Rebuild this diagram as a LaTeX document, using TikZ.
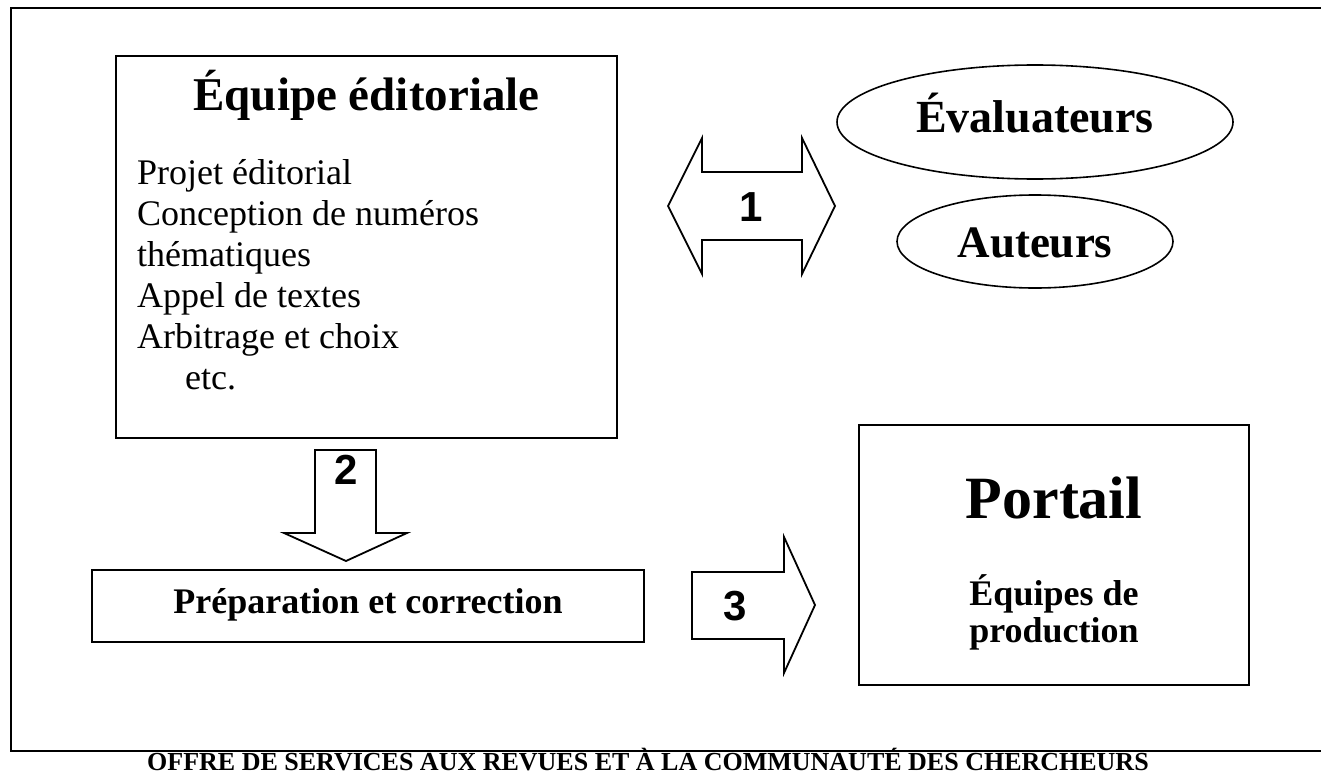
\documentclass[tikz,border=0pt]{standalone}
\usepackage{fontspec}
\setmainfont{Liberation Serif}
\newfontfamily\numfont{Liberation Sans}
\usetikzlibrary{shapes.geometric}

\begin{document}
\begin{tikzpicture}[x=1bp,y=-1bp,
  box/.style={draw, line width=2bp},
  oval/.style={draw, ellipse, line width=1.6bp, inner sep=0pt},
  blockarrow/.style={draw, line width=1.8bp, line join=miter},
  num/.style={font=\numfont\bfseries\fontsize{42bp}{42bp}\selectfont, inner sep=0pt},
  title/.style={font=\bfseries\fontsize{47bp}{52bp}\selectfont, inner sep=0pt, anchor=base},
  item/.style={font=\fontsize{36bp}{40bp}\selectfont, inner sep=0pt, anchor=base west},
  boldline/.style={font=\bfseries\fontsize{36bp}{40bp}\selectfont, inner sep=0pt, anchor=base},
  caption/.style={font=\bfseries\fontsize{26bp}{30bp}\selectfont, inner sep=0pt, anchor=base}]

\useasboundingbox (0,0) rectangle (1321,773);
\clip (0,0) rectangle (1321,773);

% outer frame (open on the right)
\draw[line width=2.6bp] (1330,8) -- (11,8) -- (11,751) -- (1330,751);

% editorial team
\node[box, minimum width=501bp, minimum height=382bp, inner sep=0pt] (edit) at (366.5,247) {};
\node[title] (edittitle) at (366.5,110) {Équipe éditoriale};
\node[item] (i1) at (137,184) {Projet éditorial};
\node[item] (i2) at (137,225) {Conception de numéros};
\node[item] (i3) at (137,266) {thématiques};
\node[item] (i4) at (137,307) {Appel de textes};
\node[item] (i5) at (137,348) {Arbitrage et choix};
\node[item] (i6) at (185,389) {etc.};

% reviewers and authors
\node[oval, minimum width=396bp, minimum height=114bp] (eval) at (1035,122) {};
\node[title, font=\bfseries\fontsize{46bp}{50bp}\selectfont] (evaltext) at (1035,132) {Évaluateurs};
\node[oval, minimum width=276bp, minimum height=93bp] (aut) at (1035,241.5) {};
\node[title, font=\bfseries\fontsize{45bp}{50bp}\selectfont] (auttext) at (1035,257) {Auteurs};

% preparation
\node[box, minimum width=552bp, minimum height=72bp, inner sep=0pt] (prep) at (368,606) {};
\node[boldline] (preptext) at (368,613) {Préparation et correction};

% portal
\node[box, minimum width=390bp, minimum height=260bp, inner sep=0pt] (portal) at (1054,555) {};
\node[title, font=\bfseries\fontsize{60bp}{64bp}\selectfont] (portaltitle) at (1054,518) {Portail};
\node[boldline, text depth=1bp] (prod1) at (1054,605) {Équipes de};
\node[boldline, text height=25bp] (prod2) at (1054,642) {production};

% exchange arrow 1
\draw[blockarrow] (668,206) -- (702,138) -- (702,172) -- (802,172) -- (802,138)
  -- (835,206) -- (802,274) -- (802,240) -- (702,240) -- (702,274) -- cycle;
\node[num] (n1) at (751,207) {1};

% arrow 2, down to preparation
\draw[blockarrow] (315,450) -- (376,450) -- (376,533) -- (407,533) -- (346,561)
  -- (284,533) -- (315,533) -- cycle;
\node[num] (n2) at (346,470) {2};

% arrow 3, towards the portal
\draw[blockarrow] (692,572) -- (784,572) -- (784,537) -- (815,605) -- (784,673)
  -- (784,639) -- (692,639) -- cycle;
\node[num] (n3) at (735,606) {3};

% caption
\node[caption] (cap) at (648,770) {OFFRE DE SERVICES AUX REVUES ET À LA COMMUNAUTÉ DES CHERCHEURS};
\end{tikzpicture}
\end{document}
